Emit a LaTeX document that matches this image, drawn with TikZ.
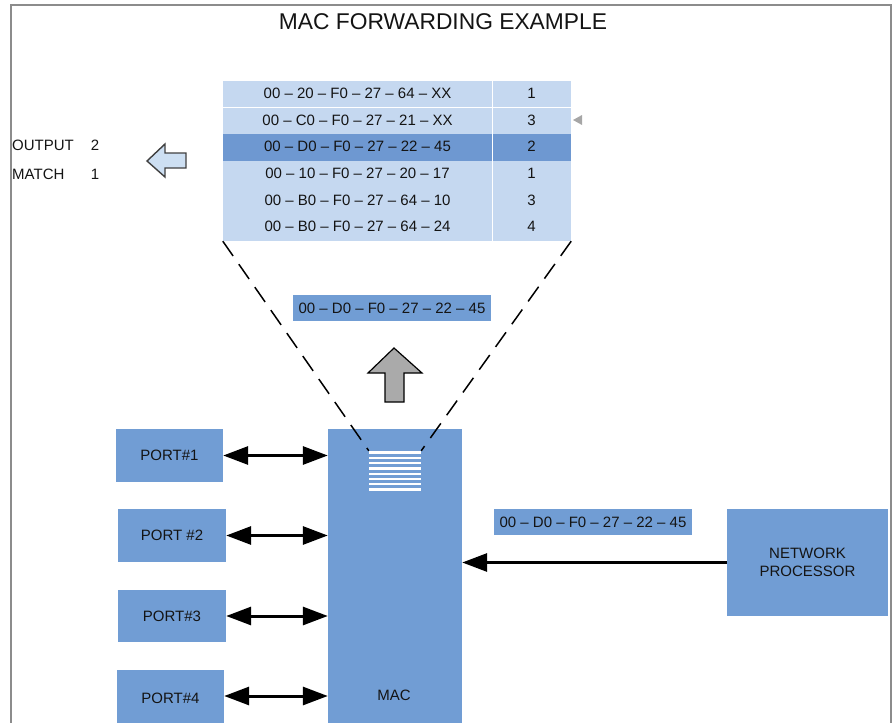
\documentclass[tikz,border=0pt]{standalone}
\usepackage{fontspec}
\setmainfont{Liberation Sans}
\usetikzlibrary{arrows.meta}
\definecolor{boxblue}{RGB}{113,157,212}
\definecolor{tablight}{RGB}{197,216,240}
\definecolor{tabdark}{RGB}{110,152,209}
\definecolor{framegray}{RGB}{140,140,140}
\definecolor{txt}{RGB}{20,20,20}
\definecolor{hollowfill}{RGB}{205,223,242}
\definecolor{upgray}{RGB}{170,170,170}
\begin{document}
\begin{tikzpicture}[x=1pt,y=-1pt,
  lbl/.style={font=\fontsize{15}{18}\selectfont, text=txt, inner sep=0pt},
  blk/.style={fill=boxblue, draw=none, inner sep=0pt, font=\fontsize{15}{18}\selectfont, text=txt, align=center},
  dblarrow/.style={line width=3pt, {Triangle[length=25pt,width=18pt]}-{Triangle[length=25pt,width=18pt]}},
  sglarrow/.style={line width=3pt, -{Triangle[length=25pt,width=18pt]}},
  zoomline/.style={line width=1.5pt, dash pattern=on 18pt off 10pt},
]
\useasboundingbox (0,0) rectangle (895,723);
% frame
\draw[framegray, line width=1.5pt] (11,730) -- (11,5) -- (891,5) -- (891,730);
% title
\node[lbl, font=\fontsize{22.8}{27}\selectfont] (title) at (443,22) {MAC FORWARDING EXAMPLE};

% forwarding table
\node[draw=none, inner sep=0pt, minimum width=348pt, minimum height=160pt] (tbl) at (397,161) {};
\foreach \i in {1,...,6}{
  \fill[tablight] (223,{81+(\i-1)*26.67}) rectangle (571,{81+\i*26.67});
}
\fill[tabdark] (223,{81+2*26.67}) rectangle (571,{81+3*26.67});
\draw[white, line width=0.8pt] (223,107.67) -- (571,107.67);
\draw[white, line width=0.8pt] (492,81) -- (492,241);
\foreach \i/\m/\p in {1/{00 – 20 – F0 – 27 – 64 – XX}/1,
                      2/{00 – C0 – F0 – 27 – 21 – XX}/3,
                      3/{00 – D0 – F0 – 27 – 22 – 45}/2,
                      4/{00 – 10 – F0 – 27 – 20 – 17}/1,
                      5/{00 – B0 – F0 – 27 – 64 – 10}/3,
                      6/{00 – B0 – F0 – 27 – 64 – 24}/4}{
  \node[lbl] (mac\i) at (357.5,{81+(\i-0.5)*26.67-1}) {\m};
  \node[lbl] (port\i) at (531.5,{81+(\i-0.5)*26.67-1}) {\p};
}
% small gray marker
\fill[gray!70] (573,120) -- (582,115) -- (582,125) -- cycle;

% output / match
\node[lbl, anchor=west] (outl) at (12,145) {OUTPUT};
\node[lbl] (outv) at (95,145) {2};
\node[lbl, anchor=west] (matl) at (12,174) {MATCH};
\node[lbl] (matv) at (95,174) {1};

% hollow left arrow
\draw[fill=hollowfill, draw=black!75, line width=1.4pt, line join=miter]
  (147,161) -- (165,144) -- (165,153) -- (186,153) -- (186,168) -- (165,168) -- (165,177) -- cycle;

% middle label
\node[blk, minimum width=198pt, minimum height=26pt] (midlbl) at (392,308) {00 – D0 – F0 – 27 – 22 – 45};

% gray up arrow
\draw[fill=upgray, draw=black, line width=1.2pt, line join=miter]
  (394,348) -- (422,373) -- (404,373) -- (404,402) -- (385,402) -- (385,373) -- (368,373) -- cycle;

% ports
\node[blk, minimum width=107pt, minimum height=53pt] (p1) at (169.5,455.5) {PORT\#1};
\node[blk, minimum width=108pt, minimum height=53pt] (p2) at (172,535.5) {PORT \#2};
\node[blk, minimum width=108pt, minimum height=52pt] (p3) at (172,616) {PORT\#3};
\node[blk, minimum width=107pt, minimum height=56pt] (p4) at (170.5,698) {PORT\#4};

% MAC block
\node[blk, minimum width=134pt, minimum height=300pt] (mac) at (395,579) {};
\node[lbl] (maclbl) at (394,695) {MAC};

% stack in MAC
\node[draw=none, inner sep=0pt, minimum width=52pt, minimum height=39pt] (stack) at (395,470.5) {};
\foreach \k in {0,...,7}{
  \draw[white, line width=2.3pt] (369,{452.5+\k*5.3}) -- (421,{452.5+\k*5.3});
}

% zoom lines
\draw[zoomline] (tbl.south west) -- (stack.north west);
\draw[zoomline] (tbl.south east) -- (stack.north east);

% port arrows
\draw[dblarrow] (p1.east) -- (p1.east -| mac.west);
\draw[dblarrow] (p2.east) -- (p2.east -| mac.west);
\draw[dblarrow] (p3.east) -- (p3.east -| mac.west);
\draw[dblarrow] (p4.east |- 0,696) -- (mac.west |- 0,696);

% network processor
\node[blk, minimum width=161pt, minimum height=107pt] (np) at (807.5,562.5) {NETWORK\\PROCESSOR};
\node[blk, minimum width=198pt, minimum height=26pt] (rlbl) at (593,522) {00 – D0 – F0 – 27 – 22 – 45};
\draw[sglarrow] (np.west) -- (np.west -| mac.east);
\end{tikzpicture}
\end{document}
